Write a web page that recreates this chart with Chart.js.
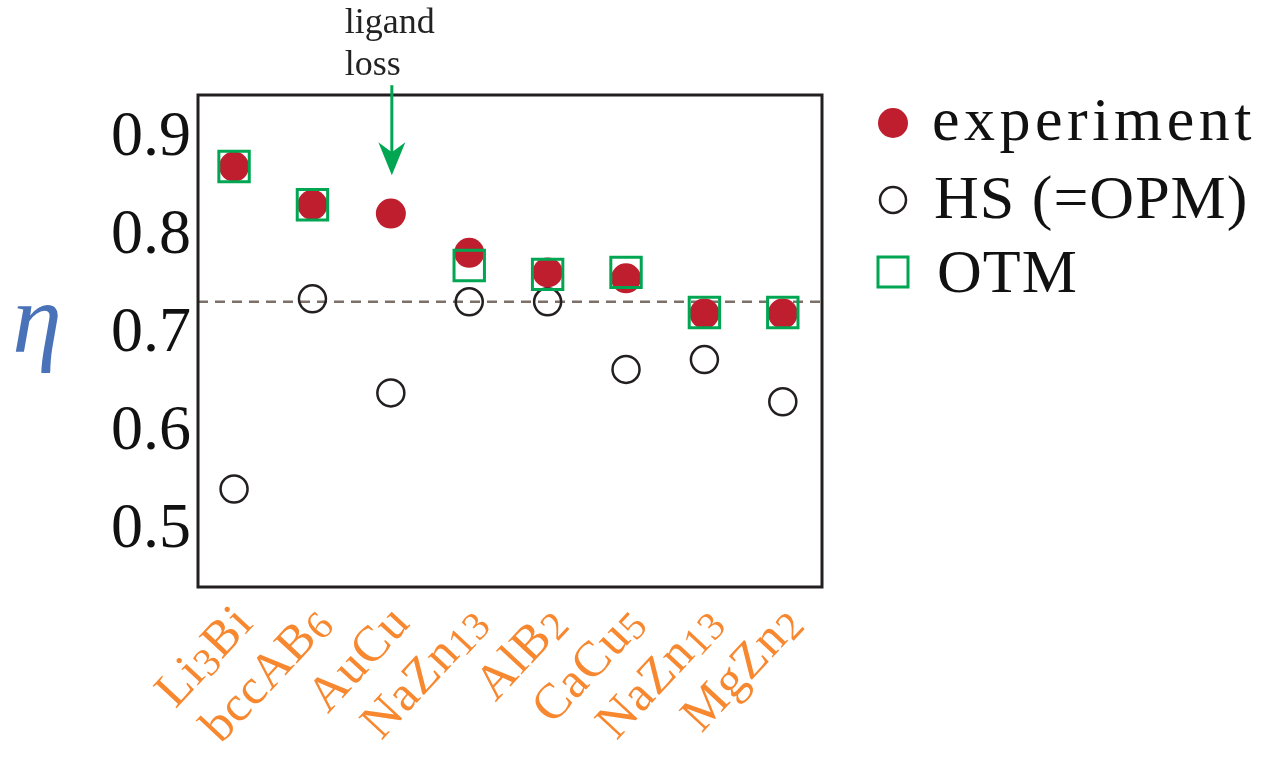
<!DOCTYPE html>
<html>
<head>
<meta charset="utf-8">
<script src="https://cdn.jsdelivr.net/npm/chart.js@4.4.1/dist/chart.umd.min.js"></script>
<style>
  html, body { margin: 0; padding: 0; background: #fff; }
  #wrap { width: 1268px; height: 758px; }
</style>
</head>
<body>
<div id="wrap"><canvas id="c" width="1268" height="758"></canvas></div>
<script>
// structures on the x axis
var categories = ['Li3Bi', 'bccAB6', 'AuCu', 'NaZn13', 'AlB2', 'CaCu5', 'NaZn13', 'MgZn2'];
// packing fraction eta
var experiment = [0.868, 0.829, 0.820, 0.780, 0.760, 0.754, 0.718, 0.718];
var hsOpm      = [0.539, 0.733, 0.637, 0.730, 0.730, 0.661, 0.671, 0.628];
var otm        = [0.868, 0.829, null, 0.767, 0.758, 0.760, 0.719, 0.719];
var yTicks     = [0.5, 0.6, 0.7, 0.8, 0.9];
var refLine    = 0.73;
var legendNames = ['experiment', 'HS (=OPM)', 'OTM'];
var arrowFrom = 0.951, arrowTo = 0.859; // "ligand loss" arrow over AuCu

var RED = '#be1e2d', GREEN = '#00a651', DARK = '#231f20', ORANGE = '#f7882f';
var LBL = 50; // category label size

function pts(arr){
	var out = [];
	for (var i = 0; i < arr.length; i++) {
		if (arr[i] != null) out.push({ x: i, y: arr[i] });
	}
	return out;
}

// split "NaZn13" into letter / digit runs, digits drawn smaller (old style look)
function runs(s){
	var out = [], m, re = /(\D+|\d+)/g;
	while ((m = re.exec(s))) out.push({ t: m[1], num: /\d/.test(m[1]) });
	return out;
}

var catLabels = {
	id: 'catLabels',
	afterDraw: function(chart){
		var ctx = chart.ctx, xs = chart.scales.x, a = chart.chartArea;
		ctx.save();
		ctx.fillStyle = ORANGE;
		ctx.textBaseline = 'alphabetic';
		ctx.textAlign = 'left';
		ctx.letterSpacing = '1px';
		categories.forEach(function(c, i){
			var parts = runs(c), w = 0;
			parts.forEach(function(p){
				ctx.font = (p.num ? LBL * 0.8 : LBL) + 'px "Liberation Serif"';
				p.w = ctx.measureText(p.t).width;
				w += p.w;
			});
			ctx.save();
			ctx.translate(xs.getPixelForValue(i) + 21, a.bottom + 37);
			ctx.rotate(-47 * Math.PI / 180);
			var x = -w;
			parts.forEach(function(p){
				ctx.font = (p.num ? LBL * 0.8 : LBL) + 'px "Liberation Serif"';
				ctx.fillText(p.t, x, p.num ? 4 : 0);
				x += p.w;
			});
			ctx.restore();
		});
		ctx.restore();
	}
};

var extras = {
	id: 'extras',
	afterDraw: function(chart){
		var ctx = chart.ctx, a = chart.chartArea,
			xs = chart.scales.x, ys = chart.scales.y;
		ctx.save();
		// frame
		ctx.strokeStyle = DARK;
		ctx.lineWidth = 3;
		ctx.strokeRect(a.left, a.top, a.right - a.left, a.bottom - a.top);

		// eta label
		ctx.fillStyle = '#4a72b8';
		ctx.font = 'italic 100px "Liberation Serif"';
		ctx.textAlign = 'center';
		ctx.textBaseline = 'alphabetic';
		ctx.fillText('\u03b7', 37, 352);

		// ligand loss arrow
		var ax = xs.getPixelForValue(2) + 1,
			y0 = ys.getPixelForValue(arrowFrom),
			y1 = ys.getPixelForValue(arrowTo);
		ctx.strokeStyle = GREEN;
		ctx.fillStyle = GREEN;
		ctx.lineWidth = 3;
		ctx.beginPath();
		ctx.moveTo(ax, y0);
		ctx.lineTo(ax, y1 - 20);
		ctx.stroke();
		ctx.beginPath();
		ctx.moveTo(ax - 13.5, y1 - 33);
		ctx.lineTo(ax, y1 - 23);
		ctx.lineTo(ax + 13.5, y1 - 33);
		ctx.lineTo(ax, y1);
		ctx.closePath();
		ctx.fill();
		ctx.fillStyle = '#222';
		ctx.font = '36px "Liberation Serif"';
		ctx.textAlign = 'left';
		ctx.fillText('ligand', ax - 47, y0 - 52);
		ctx.fillText('loss', ax - 47, y0 - 10);

		// legend
		var lx = 893, rows = [123, 200, 272], ds = chart.data.datasets;
		ctx.beginPath();
		ctx.fillStyle = ds[0].backgroundColor;
		ctx.arc(lx, rows[0], 15, 0, Math.PI * 2);
		ctx.fill();
		ctx.beginPath();
		ctx.strokeStyle = ds[1].borderColor;
		ctx.lineWidth = 2.5;
		ctx.arc(lx, rows[1], 13, 0, Math.PI * 2);
		ctx.stroke();
		ctx.strokeStyle = ds[2].borderColor;
		ctx.lineWidth = 3;
		ctx.strokeRect(lx - 15, rows[2] - 15, 30, 30);
		ctx.fillStyle = '#111';
		ctx.font = '62px "Liberation Serif"';
		ctx.letterSpacing = '4.5px';
		ctx.fillText(legendNames[0], 932, 140);
		ctx.letterSpacing = '1px';
		ctx.fillText(legendNames[1], 934, 218);
		ctx.fillText(legendNames[2], 937, 292);
		ctx.restore();
	}
};

Chart.defaults.font.family = '"Liberation Serif", serif';

new Chart(document.getElementById('c').getContext('2d'), {
	type: 'scatter',
	data: {
		datasets: [
			{ label: legendNames[0], data: pts(experiment), order: 1,
			  pointStyle: 'circle', pointRadius: 15, backgroundColor: RED, borderColor: RED, borderWidth: 0 },
			{ label: legendNames[1], data: pts(hsOpm), order: 2,
			  pointStyle: 'circle', pointRadius: 13.5, backgroundColor: 'rgba(0,0,0,0)', borderColor: DARK, borderWidth: 2.5 },
			{ label: legendNames[2], data: pts(otm), order: 0,
			  pointStyle: 'rect', pointRadius: 21.5, backgroundColor: 'rgba(0,0,0,0)', borderColor: GREEN, borderWidth: 3 },
			{ label: 'ref', type: 'line', data: [{ x: -0.46, y: refLine }, { x: 7.5, y: refLine }], order: 3,
			  borderColor: '#7d7068', borderWidth: 2.5, borderDash: [10, 7], pointRadius: 0, fill: false }
		]
	},
	options: {
		responsive: false,
		animation: false,
		layout: { padding: { left: 0, right: 446, top: 95, bottom: 0 } },
		plugins: { legend: { display: false }, tooltip: { enabled: false } },
		scales: {
			x: {
				type: 'linear', min: -0.46, max: 7.5,
				grid: { display: false }, border: { display: false },
				afterBuildTicks: function(s){ s.ticks = categories.map(function(c, i){ return { value: i }; }); },
				afterFit: function(s){ s.height = 171; },
				ticks: { display: false }
			},
			y: {
				min: 0.439, max: 0.941,
				grid: { display: false, drawTicks: false }, border: { display: false },
				afterBuildTicks: function(s){ s.ticks = yTicks.map(function(v){ return { value: v }; }); },
				afterFit: function(s){ s.width = 198; },
				ticks: {
					padding: 7, color: '#111', font: { size: 64 }, labelOffset: 3,
					callback: function(v){ return v.toFixed(1); }
				}
			}
		}
	},
	plugins: [extras, catLabels]
});
</script>
</body>
</html>
